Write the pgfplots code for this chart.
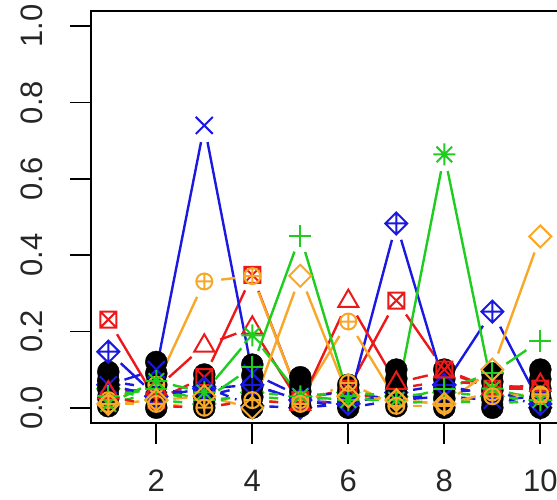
\documentclass[border=0pt]{standalone}
\usepackage{fontspec}
\setmainfont{Liberation Sans}
\usepackage{pgfplots}
\usepackage{pgfplotstable}
\pgfplotsset{compat=1.18}

\definecolor{sred}{RGB}{235,25,25}
\definecolor{sgreen}{RGB}{30,205,30}
\definecolor{sblue}{RGB}{25,25,225}
\definecolor{sorange}{RGB}{248,168,40}

% open plotting symbols
\pgfdeclareplotmark{sqx}{%
  \pgfpathrectangle{\pgfpoint{-\pgfplotmarksize}{-\pgfplotmarksize}}{\pgfpoint{2\pgfplotmarksize}{2\pgfplotmarksize}}%
  \pgfpathmoveto{\pgfpoint{-\pgfplotmarksize}{-\pgfplotmarksize}}\pgfpathlineto{\pgfpoint{\pgfplotmarksize}{\pgfplotmarksize}}%
  \pgfpathmoveto{\pgfpoint{-\pgfplotmarksize}{\pgfplotmarksize}}\pgfpathlineto{\pgfpoint{\pgfplotmarksize}{-\pgfplotmarksize}}%
  \pgfusepathqstroke}
\pgfdeclareplotmark{rdia}{%
  \pgfpathmoveto{\pgfpoint{0pt}{\pgfplotmarksize}}\pgfpathlineto{\pgfpoint{\pgfplotmarksize}{0pt}}%
  \pgfpathlineto{\pgfpoint{0pt}{-\pgfplotmarksize}}\pgfpathlineto{\pgfpoint{-\pgfplotmarksize}{0pt}}\pgfpathclose
  \pgfusepathqstroke}
\pgfdeclareplotmark{dplus}{%
  \pgfpathmoveto{\pgfpoint{0pt}{\pgfplotmarksize}}\pgfpathlineto{\pgfpoint{\pgfplotmarksize}{0pt}}%
  \pgfpathlineto{\pgfpoint{0pt}{-\pgfplotmarksize}}\pgfpathlineto{\pgfpoint{-\pgfplotmarksize}{0pt}}\pgfpathclose
  \pgfpathmoveto{\pgfpoint{-\pgfplotmarksize}{0pt}}\pgfpathlineto{\pgfpoint{\pgfplotmarksize}{0pt}}%
  \pgfpathmoveto{\pgfpoint{0pt}{-\pgfplotmarksize}}\pgfpathlineto{\pgfpoint{0pt}{\pgfplotmarksize}}%
  \pgfusepathqstroke}
\pgfdeclareplotmark{cplus}{%
  \pgfpathcircle{\pgfpointorigin}{\pgfplotmarksize}%
  \pgfpathmoveto{\pgfpoint{-\pgfplotmarksize}{0pt}}\pgfpathlineto{\pgfpoint{\pgfplotmarksize}{0pt}}%
  \pgfpathmoveto{\pgfpoint{0pt}{-\pgfplotmarksize}}\pgfpathlineto{\pgfpoint{0pt}{\pgfplotmarksize}}%
  \pgfusepathqstroke}
\pgfdeclareplotmark{pcross}{%
  \pgfpathmoveto{\pgfpoint{-\pgfplotmarksize}{0pt}}\pgfpathlineto{\pgfpoint{\pgfplotmarksize}{0pt}}%
  \pgfpathmoveto{\pgfpoint{0pt}{-\pgfplotmarksize}}\pgfpathlineto{\pgfpoint{0pt}{\pgfplotmarksize}}%
  \pgfusepathqstroke}
\pgfdeclareplotmark{xcross}{%
  \pgfpathmoveto{\pgfpoint{-\pgfplotmarksize}{-\pgfplotmarksize}}\pgfpathlineto{\pgfpoint{\pgfplotmarksize}{\pgfplotmarksize}}%
  \pgfpathmoveto{\pgfpoint{-\pgfplotmarksize}{\pgfplotmarksize}}\pgfpathlineto{\pgfpoint{\pgfplotmarksize}{-\pgfplotmarksize}}%
  \pgfusepathqstroke}
\pgfdeclareplotmark{star8}{%
  \pgfpathmoveto{\pgfpoint{-\pgfplotmarksize}{0pt}}\pgfpathlineto{\pgfpoint{\pgfplotmarksize}{0pt}}%
  \pgfpathmoveto{\pgfpoint{0pt}{-\pgfplotmarksize}}\pgfpathlineto{\pgfpoint{0pt}{\pgfplotmarksize}}%
  \pgfpathmoveto{\pgfpoint{-.707\pgfplotmarksize}{-.707\pgfplotmarksize}}\pgfpathlineto{\pgfpoint{.707\pgfplotmarksize}{.707\pgfplotmarksize}}%
  \pgfpathmoveto{\pgfpoint{-.707\pgfplotmarksize}{.707\pgfplotmarksize}}\pgfpathlineto{\pgfpoint{.707\pgfplotmarksize}{-.707\pgfplotmarksize}}%
  \pgfusepathqstroke}
\pgfdeclareplotmark{tri}{%
  \pgfpathmoveto{\pgfpoint{-\pgfplotmarksize}{-.6\pgfplotmarksize}}\pgfpathlineto{\pgfpoint{\pgfplotmarksize}{-.6\pgfplotmarksize}}%
  \pgfpathlineto{\pgfpoint{0pt}{1.13\pgfplotmarksize}}\pgfpathclose
  \pgfusepathqstroke}

% k1..k5: solid black series; c1..c14: coloured series
\pgfplotstableread{
x  k1    k2    k3    k4    k5    c1    c2    c3    c4    c5    c6    c7    c8    c9    c10   c11   c12   c13   c14
1  0.004 0.027 0.050 0.072 0.094 0.231 0.147 0.060 0.020 0.040 0.030 0.010 0.010 0.010 0.060 0.010 0.030 0.070 0.050
2  0.000 0.030 0.060 0.090 0.120 0.020 0.030 0.100 0.060 0.050 0.050 0.070 0.020 0.010 0.030 0.040 0.005 0.050 0.020
3  0.000 0.022 0.044 0.066 0.087 0.080 0.050 0.740 0.331 0.163 0.020 0.040 0.030 0.000 0.055 0.020 0.000 0.030 0.010
4  0.000 0.028 0.056 0.085 0.113 0.348 0.060 0.090 0.345 0.210 0.107 0.190 0.000 0.020 0.005 0.030 0.020 0.060 0.040
5  0.004 0.023 0.042 0.061 0.080 0.020 0.020 0.030 0.020 0.010 0.451 0.030 0.346 0.010 0.000 0.020 0.010 0.020 0.030
6  0.000 0.015 0.030 0.045 0.060 0.050 0.010 0.040 0.226 0.280 0.030 0.020 0.030 0.065 0.010 0.030 0.020 0.000 0.040
7  0.004 0.028 0.052 0.076 0.100 0.281 0.483 0.020 0.020 0.065 0.020 0.020 0.020 0.005 0.040 0.010 0.050 0.020 0.030
8  0.000 0.025 0.050 0.075 0.100 0.100 0.060 0.030 0.010 0.095 0.050 0.664 0.010 0.005 0.060 0.020 0.070 0.040 0.040
9  0.000 0.023 0.045 0.068 0.090 0.050 0.252 0.020 0.040 0.050 0.090 0.050 0.100 0.030 0.030 0.010 0.060 0.050 0.030
10 0.000 0.025 0.050 0.075 0.100 0.050 0.010 0.030 0.030 0.060 0.176 0.020 0.449 0.035 0.000 0.020 0.050 0.000 0.020
}\curves

\pgfplotsset{
  l1/.style={sred},     m1/.style={mark=sqx,    mark size=8pt},
  l2/.style={sblue},    m2/.style={mark=dplus,  mark size=11pt},
  l3/.style={sblue},    m3/.style={mark=xcross, mark size=8.5pt},
  l4/.style={sorange},  m4/.style={mark=cplus,  mark size=8pt},
  l5/.style={sred},     m5/.style={mark=tri,    mark size=10pt},
  l6/.style={sgreen},   m6/.style={mark=pcross, mark size=11pt},
  l7/.style={sgreen},   m7/.style={mark=star8,  mark size=11pt},
  l8/.style={sorange},  m8/.style={mark=rdia,   mark size=11pt},
  l9/.style={sorange, dash pattern=on 9pt off 7pt},  m9/.style={mark=cplus,  mark size=8pt},
  l10/.style={sblue, dash pattern=on 9pt off 7pt},   m10/.style={mark=rdia,  mark size=11pt},
  l11/.style={sgreen, dash pattern=on 9pt off 7pt},  m11/.style={mark=star8, mark size=11pt},
  l12/.style={sred, dash pattern=on 9pt off 7pt},    m12/.style={mark=cplus, mark size=8pt},
  l13/.style={sblue, dash pattern=on 9pt off 7pt},   m13/.style={mark=pcross, mark size=11pt},
  l14/.style={sgreen, dash pattern=on 9pt off 7pt},  m14/.style={mark=rdia,  mark size=11pt},
  seg/.style={line width=2.4pt, mark=none, shorten <=17pt, shorten >=17pt},
}

% the nine segments of one series, each stopping short of its two points
\newcommand\segs[1]{%
  \addplot[l#1, seg, restrict x to domain=1:2]  table[x=x, y=c#1]{\curves};
  \addplot[l#1, seg, restrict x to domain=2:3]  table[x=x, y=c#1]{\curves};
  \addplot[l#1, seg, restrict x to domain=3:4]  table[x=x, y=c#1]{\curves};
  \addplot[l#1, seg, restrict x to domain=4:5]  table[x=x, y=c#1]{\curves};
  \addplot[l#1, seg, restrict x to domain=5:6]  table[x=x, y=c#1]{\curves};
  \addplot[l#1, seg, restrict x to domain=6:7]  table[x=x, y=c#1]{\curves};
  \addplot[l#1, seg, restrict x to domain=7:8]  table[x=x, y=c#1]{\curves};
  \addplot[l#1, seg, restrict x to domain=8:9]  table[x=x, y=c#1]{\curves};
  \addplot[l#1, seg, restrict x to domain=9:10] table[x=x, y=c#1]{\curves};
}

\begin{document}
\begin{tikzpicture}
\begin{axis}[
  at={(0,0)}, anchor=south west,
  scale only axis, width=466.6pt, height=412pt,
  xmin=0.64, xmax=10.36, ymin=-0.04, ymax=1.04,
  set layers, axis on top,
  xtick={2,4,6,8,10}, xticklabels={2,4,6,8,10},
  ytick={0,0.2,0.4,0.6,0.8,1}, yticklabels={0.0,0.2,0.4,0.6,0.8,1.0},
  tick pos=left, tick align=outside, major tick length=21pt,
  axis line style={line width=1.7pt},
  tick style={line width=1.7pt, black},
  /pgf/number format/assume math mode=true,
  ticklabel style={font=\fontsize{31}{31}\selectfont, text=black!85},
  yticklabel style={xshift=-27pt, rotate=90, anchor=south, inner sep=0pt},
  xticklabel style={yshift=-26pt, anchor=north, inner sep=0pt},
]
% connecting segments
\segs{1}\segs{2}\segs{3}\segs{4}\segs{5}\segs{6}\segs{7}
\segs{8}\segs{9}\segs{10}\segs{11}\segs{12}\segs{13}\segs{14}
% symbols of the low dashed series, partly hidden by the black points
\pgfplotsinvokeforeach{10,...,14}{
  \addplot[l#1, m#1, only marks, line width=2pt, mark options={solid}] table[x=x, y=c#1]{\curves};
}
% solid black points
\pgfplotsinvokeforeach{1,...,5}{
  \addplot[black, only marks, mark=*, mark size=11pt] table[x=x, y=k#1]{\curves};
}
% coloured symbols on top
\pgfplotsinvokeforeach{1,...,9}{
  \addplot[l#1, m#1, only marks, line width=2pt, mark options={solid}] table[x=x, y=c#1]{\curves};
}
\end{axis}
\pgfresetboundingbox
\path[use as bounding box] (-91pt,-77pt) rectangle (466pt,423pt);
\end{tikzpicture}
\end{document}
